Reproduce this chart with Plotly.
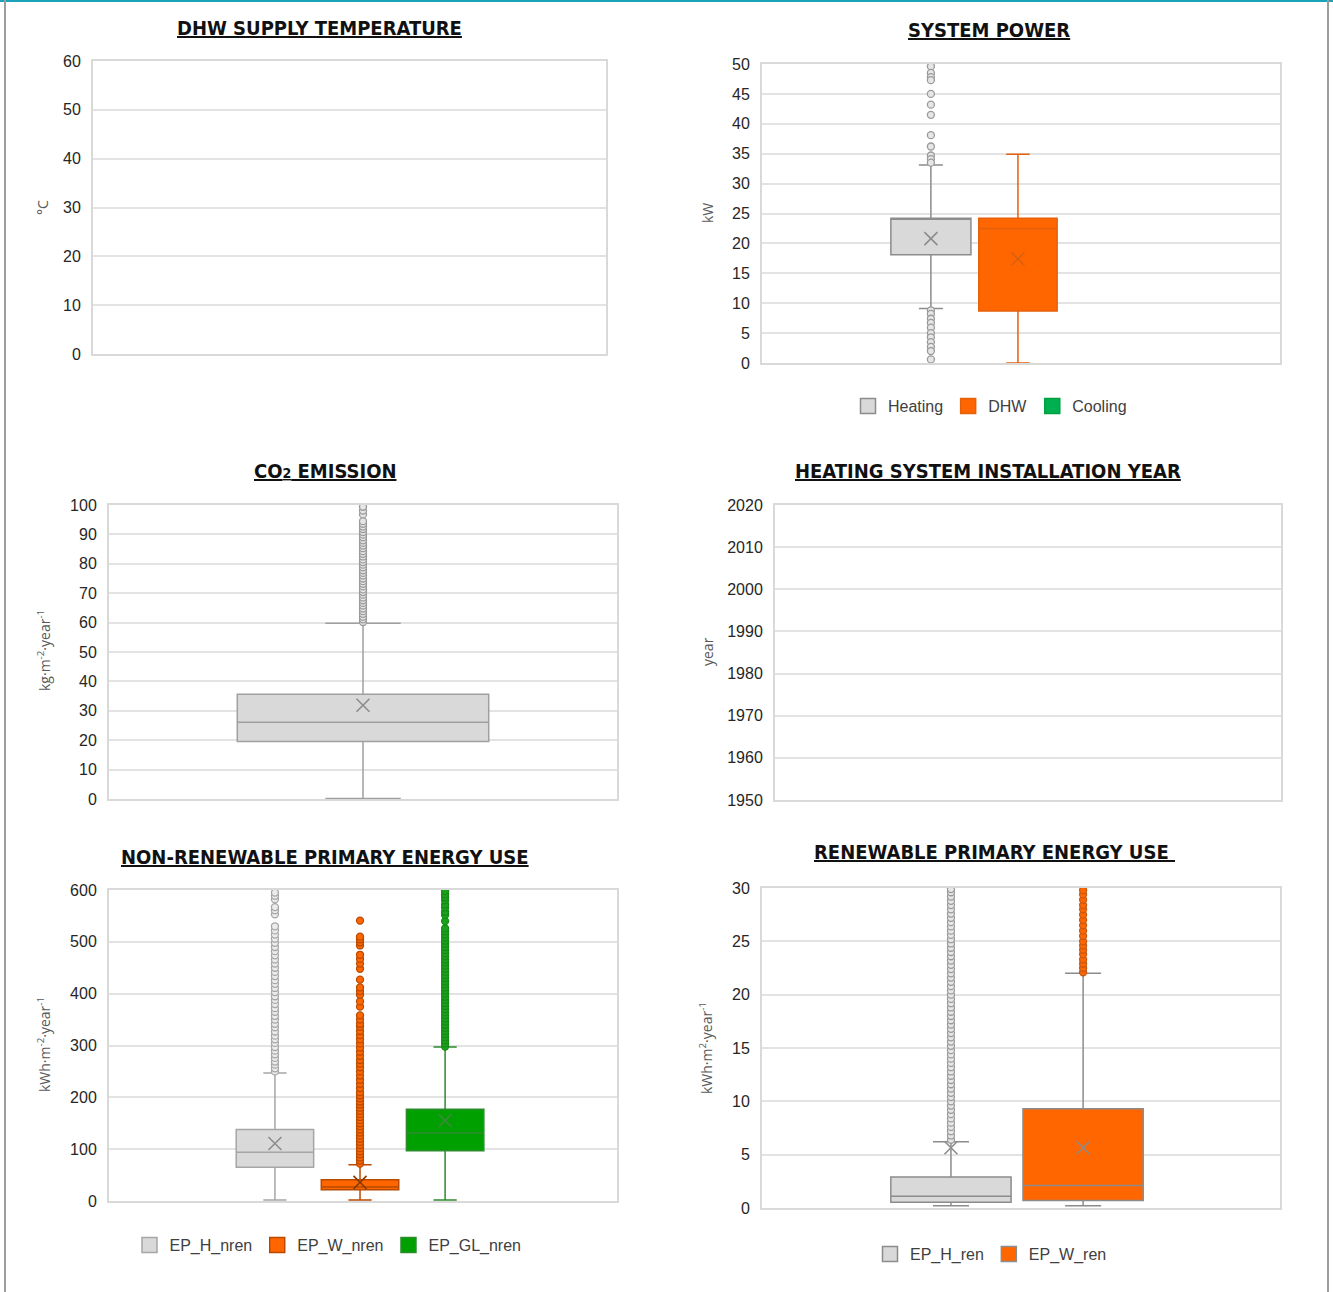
import plotly.graph_objects as go

W, H = 1333, 1292

# ---------------- DATA ----------------
# System power (kW)
power_series = ["Heating", "DHW", "Cooling"]
power_q1 = [18.1, 8.7]
power_median = [24.1, 22.5]
power_q3 = [24.2, 24.2]
power_lower = [9.1, 0.0]
power_upper = [33.1, 34.9]
power_mean = [20.8, 17.4]
power_heating_outliers = [49.6, 48.5, 47.8, 47.3, 45.0, 43.2, 41.5, 38.1, 36.2, 34.7, 34.1, 33.5,
                          8.8, 8.2, 7.4, 6.7, 5.9, 5.0, 4.3, 3.5, 2.7, 2.0, 0.6]

# CO2 emission (kg m-2 year-1)
co2_q1 = [19.6]
co2_median = [26.1]
co2_q3 = [35.6]
co2_lower = [0.2]
co2_upper = [59.8]
co2_mean = [31.9]
co2_outliers = [60.2, 61.1, 62.0, 63.0, 63.9, 64.8, 65.8, 66.7, 67.6, 68.5, 69.5, 70.4, 71.3,
                72.3, 73.2, 74.1, 75.0, 76.0, 76.9, 77.8, 78.8, 79.7, 80.6, 81.5, 82.5, 83.4,
                84.3, 85.3, 86.2, 87.1, 88.0, 89.0, 89.9, 90.8, 91.8, 92.7, 93.6, 94.5, 96.8,
                98.1, 99.4]

# Non-renewable primary energy (kWh m-2 year-1)
nren_series = ["EP_H_nren", "EP_W_nren", "EP_GL_nren"]
nren_q1 = [65, 21.5, 97]
nren_median = [94, 27, 131]
nren_q3 = [138, 41, 177]
nren_lower = [2, 2, 2]
nren_upper = [247, 70, 297]
nren_mean = [111, 36, 155]
nren_h_outliers = [250, 256, 263, 269, 276, 283, 290, 297, 305, 312, 319, 327, 335, 342, 350, 357,
                   365, 372, 380, 388, 395, 403, 411, 419, 426, 434, 442, 450, 458, 466, 474, 482,
                   490, 498, 506, 514, 522, 530, 553, 561, 567, 582, 589, 595]
nren_w_outliers = [72, 78, 84, 90, 96, 102, 108, 114, 120, 126, 132, 138, 144, 150, 156, 162, 168,
                   174, 180, 186, 192, 198, 204, 210, 218, 226, 234, 242, 250, 258, 265, 272, 280,
                   288, 296, 304, 312, 320, 328, 336, 342, 350, 358, 375, 385, 398, 405, 412, 427,
                   448, 458, 467, 475, 493, 499, 505, 510, 541]
nren_gl_outliers = [298, 304, 310, 316, 322, 328, 334, 340, 346, 352, 358, 364, 370, 376, 382, 388,
                    394, 400, 406, 412, 418, 424, 430, 436, 442, 448, 454, 460, 466, 472, 478, 484,
                    490, 496, 502, 508, 514, 520, 526, 540, 552, 558, 566, 572, 580, 586, 592, 598]

# Renewable primary energy (kWh m-2 year-1)
ren_series = ["EP_H_ren", "EP_W_ren"]
ren_q1 = [0.53, 0.7]
ren_median = [1.1, 2.1]
ren_q3 = [2.9, 9.3]
ren_lower = [0.2, 0.2]
ren_upper = [6.2, 22.0]
ren_mean = [5.65, 5.65]
ren_h_outliers = [6.4, 6.8, 7.2, 7.6, 8.0, 8.4, 8.8, 9.2, 9.6, 10.0, 10.4, 10.8, 11.2, 11.6, 12.0,
                  12.4, 12.8, 13.2, 13.6, 14.0, 14.4, 14.8, 15.2, 15.6, 16.0, 16.4, 16.8, 17.2,
                  17.6, 18.0, 18.4, 18.8, 19.2, 19.6, 20.0, 20.4, 20.8, 21.2, 21.6, 22.0, 22.4,
                  22.8, 23.2, 23.6, 24.0, 24.4, 24.8, 25.2, 25.6, 26.0, 26.4, 26.8, 27.2, 27.6,
                  28.0, 28.4, 28.8, 29.2, 29.6, 29.9]
ren_w_outliers = [22.1, 22.5, 22.9, 23.3, 23.8, 24.2, 24.6, 25.0, 25.5, 26.0, 26.5, 27.0, 27.5,
                  28.0, 28.4, 28.9, 29.4, 29.8]

# Axis tick values
temp_ticks = [0, 10, 20, 30, 40, 50, 60]
power_ticks = [0, 5, 10, 15, 20, 25, 30, 35, 40, 45, 50]
co2_ticks = [0, 10, 20, 30, 40, 50, 60, 70, 80, 90, 100]
year_ticks = [1950, 1960, 1970, 1980, 1990, 2000, 2010, 2020]
nren_ticks = [0, 100, 200, 300, 400, 500, 600]
ren_ticks = [0, 5, 10, 15, 20, 25, 30]

# ---------------- STYLE ----------------
GRAY_FILL = "#d9d9d9"
GRAY_LINE = "#8c8c8c"
ORANGE = "#ff6600"
GREEN = "#00a000"
NARROW = "DejaVu Sans Condensed, Liberation Sans Narrow, Liberation Sans, sans-serif"
TICKF = "Liberation Sans, Arial, sans-serif"
SANS = "Open Sans, DejaVu Sans, sans-serif"


def px(x):
    return x / W


def py(y):
    return 1 - y / H


fig = go.Figure()


def add_box(i, q1, med, q3, lo, up, fill, line, xa, ya, width):
    fig.add_trace(go.Box(
        x=[i], q1=[q1], median=[med], q3=[q3], lowerfence=[lo], upperfence=[up],
        fillcolor=fill, line=dict(color=line, width=1.5), width=width,
        whiskerwidth=0.3, boxpoints=False, showlegend=False, hoverinfo="skip",
        xaxis=xa, yaxis=ya))


def add_points(i, vals, fill, line, xa, ya, size=7):
    fig.add_trace(go.Scatter(
        x=[i] * len(vals), y=vals, mode="markers",
        marker=dict(symbol="circle", size=size, color=fill, line=dict(color=line, width=1.3)),
        showlegend=False, hoverinfo="skip", xaxis=xa, yaxis=ya))


def add_mean(i, m, color, xa, ya):
    fig.add_trace(go.Scatter(
        x=[i], y=[m], mode="markers",
        marker=dict(symbol="x-thin-open", size=13, color=color, line=dict(color=color, width=1.6)),
        showlegend=False, hoverinfo="skip", xaxis=xa, yaxis=ya))


def add_legend_item(name, fill, line, legend):
    fig.add_trace(go.Scatter(
        x=[None], y=[None], mode="markers", name=name,
        marker=dict(symbol="square", size=15, color=fill, line=dict(color=line, width=1.5)),
        legend=legend, xaxis="x2", yaxis="y2"))


# Panel 1 (empty): DHW supply temperature
fig.add_trace(go.Scatter(x=[None], y=[None], showlegend=False, xaxis="x", yaxis="y"))

# Panel 2: system power
add_box(0, power_q1[0], power_median[0], power_q3[0], power_lower[0], power_upper[0],
        GRAY_FILL, GRAY_LINE, "x2", "y2", 0.92)
add_box(1, power_q1[1], power_median[1], power_q3[1], power_lower[1], power_upper[1],
        ORANGE, "#e5600a", "x2", "y2", 0.9)
add_points(0, power_heating_outliers, "#e6e6e6", "#9a9a9a", "x2", "y2")
add_mean(0, power_mean[0], GRAY_LINE, "x2", "y2")
add_mean(1, power_mean[1], "#d9600f", "x2", "y2")
add_legend_item(power_series[0], GRAY_FILL, GRAY_LINE, "legend")
add_legend_item(power_series[1], ORANGE, "#e5600a", "legend")
add_legend_item(power_series[2], "#00b050", "#00a040", "legend")

# Panel 3: CO2
add_box(0, co2_q1[0], co2_median[0], co2_q3[0], co2_lower[0], co2_upper[0],
        GRAY_FILL, "#a0a0a0", "x3", "y3", 0.99)
add_points(0, co2_outliers, "#e6e6e6", "#9a9a9a", "x3", "y3")
add_mean(0, co2_mean[0], GRAY_LINE, "x3", "y3")

# Panel 4 (empty): installation year
fig.add_trace(go.Scatter(x=[None], y=[None], showlegend=False, xaxis="x4", yaxis="y4"))

# Panel 5: non-renewable
nren_fill = [GRAY_FILL, ORANGE, GREEN]
nren_line = ["#a6a6a6", "#b84a00", "#2e8b2e"]
nren_outs = [nren_h_outliers, nren_w_outliers, nren_gl_outliers]
nren_ofill = ["#ececec", ORANGE, "#1aa31a"]
nren_oline = ["#a6a6a6", "#b84a00", "#178a17"]
nren_mcol = [GRAY_LINE, "#8a3a00", "#3a8a3a"]
for i in range(3):
    add_box(i, nren_q1[i], nren_median[i], nren_q3[i], nren_lower[i], nren_upper[i],
            nren_fill[i], nren_line[i], "x5", "y5", 0.91)
for i in range(3):
    add_points(i, nren_outs[i], nren_ofill[i], nren_oline[i], "x5", "y5")
    add_mean(i, nren_mean[i], nren_mcol[i], "x5", "y5")
for i in range(3):
    add_legend_item(nren_series[i], nren_fill[i], nren_line[i], "legend2")

# Panel 6: renewable
ren_fill = [GRAY_FILL, ORANGE]
ren_outs = [ren_h_outliers, ren_w_outliers]
ren_ofill = ["#e6e6e6", ORANGE]
ren_oline = ["#9a9a9a", "#c65a14"]
for i in range(2):
    add_box(i, ren_q1[i], ren_median[i], ren_q3[i], ren_lower[i], ren_upper[i],
            ren_fill[i], GRAY_LINE, "x6", "y6", 0.91)
for i in range(2):
    add_points(i, ren_outs[i], ren_ofill[i], ren_oline[i], "x6", "y6")
    add_mean(i, ren_mean[i], GRAY_LINE, "x6", "y6")
for i in range(2):
    add_legend_item(ren_series[i], ren_fill[i], GRAY_LINE, "legend3")


# ---------------- LAYOUT ----------------
def yax(domain, rng, ticks, anchor):
    return dict(domain=domain, range=rng, tickvals=ticks, anchor=anchor,
                showgrid=True, gridcolor="#e3e3e3", gridwidth=2,
                showline=True, mirror=True, linecolor="#d9d9d9", linewidth=2,
                zeroline=False, ticks="", ticklabelstandoff=7, automargin=False,
                tickfont=dict(family=TICKF, size=16, color="#262626"), fixedrange=True)


def xax(domain, rng, anchor):
    return dict(domain=domain, range=rng, anchor=anchor, showgrid=False,
                showline=True, mirror=True, linecolor="#d9d9d9", linewidth=2,
                zeroline=False, showticklabels=False, ticks="", automargin=False,
                fixedrange=True)


leg_font = dict(family=TICKF, size=16, color="#404040")
layout = dict(
    width=W, height=H, autosize=False,
    margin=dict(l=0, r=0, t=0, b=0, autoexpand=False),
    paper_bgcolor="white", plot_bgcolor="white",
    xaxis=xax([px(93), px(606)], [0, 1], "y"),
    yaxis=yax([py(354), py(61)], [0, 60], temp_ticks, "x"),
    xaxis2=xax([px(762), px(1280)], [-1.94, 4.01], "y2"),
    yaxis2=yax([py(363), py(64)], [0, 50], power_ticks, "x2"),
    xaxis3=xax([px(109), px(617)], [-1.0, 1.0], "y3"),
    yaxis3=yax([py(799), py(505)], [0, 100], co2_ticks, "x3"),
    xaxis4=xax([px(775), px(1281)], [0, 1], "y4"),
    yaxis4=yax([py(800), py(505)], [1950, 2020], year_ticks, "x4"),
    xaxis5=xax([px(109), px(617)], [-1.95, 4.02], "y5"),
    yaxis5=yax([py(1201), py(890)], [0, 600], nren_ticks, "x5"),
    xaxis6=xax([px(762), px(1280)], [-1.43, 2.49], "y6"),
    yaxis6=yax([py(1208), py(888)], [0, 30], ren_ticks, "x6"),
    legend=dict(orientation="h", x=px(990), y=py(406), xanchor="center", yanchor="middle",
                font=leg_font, bgcolor="rgba(0,0,0,0)"),
    legend2=dict(orientation="h", x=px(328), y=py(1245), xanchor="center", yanchor="middle",
                 font=leg_font, bgcolor="rgba(0,0,0,0)"),
    legend3=dict(orientation="h", x=px(991), y=py(1254), xanchor="center", yanchor="middle",
                 font=leg_font, bgcolor="rgba(0,0,0,0)"),
)
fig.update_layout(**layout)

titles = [
    ("<b><u>DHW SUPPLY TEMPERATURE</u></b>", 319, 28),
    ("<b><u>SYSTEM POWER</u></b>", 989, 30),
    ("<b><u>CO<span style='font-size:70%'>2</span> EMISSION</u></b>", 325, 471),
    ("<b><u>HEATING SYSTEM INSTALLATION YEAR</u></b>", 988, 471),
    ("<b><u>NON-RENEWABLE PRIMARY ENERGY USE</u></b>", 325, 857),
    ("<b><u>RENEWABLE PRIMARY ENERGY USE </u></b>", 994, 852),
]
for t, x, y in titles:
    fig.add_annotation(text=t, x=px(x), y=py(y), xref="paper", yref="paper",
                       showarrow=False, xanchor="center", yanchor="middle",
                       font=dict(family=NARROW, size=20, color="#111111"))

ylabels = [
    ("°C", 43, 208),
    ("kW", 707, 213),
    ("kg·m<sup>-2</sup>·year<sup>-1</sup>", 44, 651),
    ("year", 707, 652),
    ("kWh·m<sup>-2</sup>·year<sup>-1</sup>", 44, 1045),
    ("kWh·m<sup>2</sup>·year<sup>-1</sup>", 706, 1048),
]
for t, x, y in ylabels:
    fig.add_annotation(text=t, x=px(x), y=py(y), xref="paper", yref="paper",
                       showarrow=False, textangle=-90, xanchor="center", yanchor="middle",
                       font=dict(family=SANS, size=14, color="#595959"))

# page decorations
fig.add_shape(type="line", xref="paper", yref="paper", x0=0, x1=1, y0=py(1), y1=py(1),
              line=dict(color="#1aa3b8", width=2))
fig.add_shape(type="line", xref="paper", yref="paper", x0=px(5), x1=px(5), y0=0, y1=1,
              line=dict(color="#9e9e9e", width=2))
fig.add_shape(type="line", xref="paper", yref="paper", x0=px(1328), x1=px(1328), y0=0, y1=1,
              line=dict(color="#9e9e9e", width=2))

fig.write_html("out.html", config={"displayModeBar": False},
               post_script="document.body.style.margin='0';document.body.style.overflow='hidden';")
